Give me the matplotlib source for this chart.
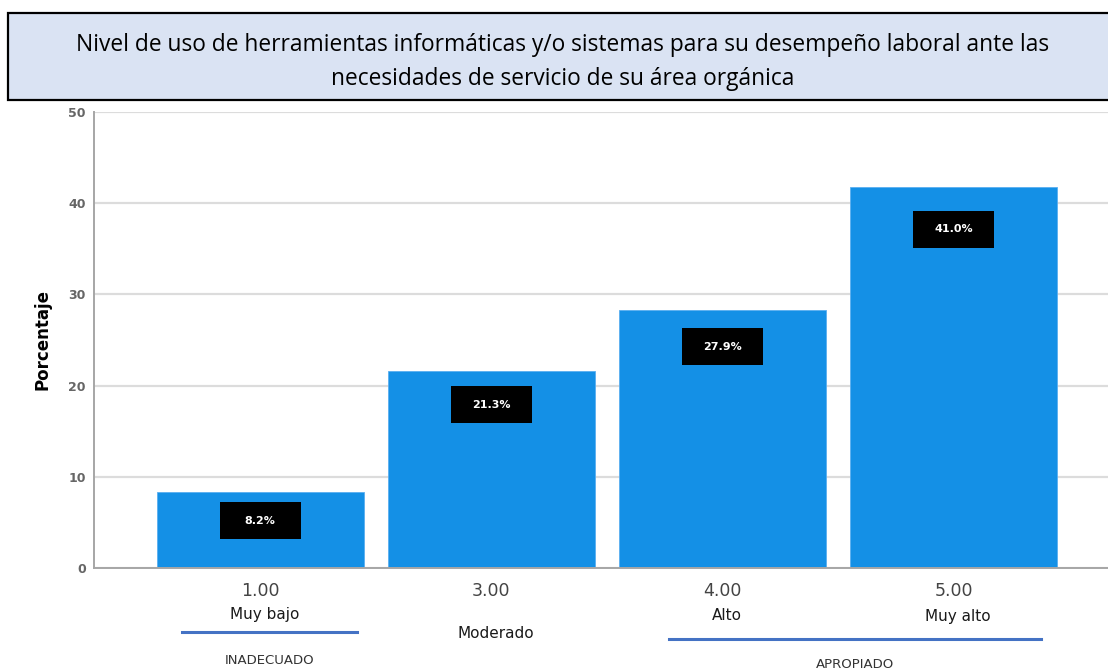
import matplotlib
matplotlib.use("Agg")
from matplotlib import pyplot as plt
from matplotlib.patches import Rectangle
from matplotlib.lines import Line2D
from matplotlib.transforms import Affine2D, ScaledTranslation

# data
codes = ["1.00", "3.00", "4.00", "5.00"]
categories = ["Muy bajo", "Moderado", "Alto", "Muy alto"]
bar_heights = [8.3, 21.6, 28.3, 41.8]
pct_labels = [8.2, 21.3, 27.9, 41.0]
groups = ["INADECUADO", "APROPIADO"]

title = ("Nivel de uso de herramientas informáticas y/o sistemas para su desempeño laboral ante las\n"
         "necesidades de servicio de su área orgánica")

W, H = 1108, 670
fig = plt.figure(figsize=(W / 100, H / 100), dpi=100)

# axes placed in pixels: left 94, right past the edge, top 112, bottom 568
ax = fig.add_axes([94 / W, 1 - 568 / H, (1120 - 94) / W, (568 - 112) / H])

x = list(range(len(codes)))
ax.bar(x, bar_heights, width=0.896, color="#1490e6", edgecolor="#5aaef0", linewidth=0.6, zorder=2)

ax.set_ylim(0, 50)
ax.set_xlim(-0.719, 3.72)
ax.set_yticks([0, 10, 20, 30, 40, 50])
ax.yaxis.grid(True, color="#dcdcdc", linewidth=1.6, zorder=0)
ax.set_axisbelow(True)
for s in ["top", "right"]:
    ax.spines[s].set_visible(False)
for s in ["left", "bottom"]:
    ax.spines[s].set_color("#a6a6a6")
    ax.spines[s].set_linewidth(1.4)
ax.tick_params(axis="y", length=0, pad=6, labelsize=9, labelcolor="#666666")
for lab in ax.get_yticklabels():
    lab.set_fontweight("bold")
ax.set_xticks(x)
ax.set_xticklabels(codes, fontsize=12.5, color="#444444")
ax.tick_params(axis="x", length=0, pad=10)

ax.set_ylabel("Porcentaje", fontsize=12, fontweight="bold", labelpad=12)

# black value boxes (fixed 81x37 px) inside the bars
for xi, h, p in zip(x, bar_heights, pct_labels):
    yc = h - (2.75 + 0.045 * h)
    box_tr = Affine2D().translate(-40.5, -18.5) + ScaledTranslation(xi, yc, ax.transData)
    ax.add_patch(Rectangle((0, 0), 81, 37, transform=box_tr,
                           facecolor="black", edgecolor="none", zorder=4))
    ax.text(xi, yc, f"{p:.1f}%", ha="center", va="center", color="white",
            fontsize=8, fontweight="bold", zorder=5)


def fy(py):
    # pixel row -> axes fraction
    return (568 - py) / (568 - 112)


trans = ax.get_xaxis_transform()
cat_rows = [614, 633, 616, 616]
for xi, c, r in zip(x, categories, cat_rows):
    ax.text(xi + 0.02, fy(r), c, transform=trans, ha="center", va="center",
            fontsize=11, color="#1a1a1a", fontweight="medium", clip_on=False)

# group underlines and names
spans = [(-0.34, 0.42), (1.77, 3.38)]
line_rows = [632, 639]
name_rows = [660, 664]
for g, (a, b), lr, nr in zip(groups, spans, line_rows, name_rows):
    ax.add_line(Line2D([a, b], [fy(lr), fy(lr)], transform=trans, color="#4472c4",
                       linewidth=2.2, clip_on=False))
    ax.text((a + b) / 2, fy(nr), g, transform=trans, ha="center", va="center",
            fontsize=9.5, color="#333333", clip_on=False)

# title box
fig.patches.append(Rectangle((8 / W, 1 - 100 / H), 1.2, 87 / H, transform=fig.transFigure,
                             facecolor="#dae3f3", edgecolor="black", linewidth=1.6, zorder=1))
fig.text(563 / W, 1 - 62 / H, title, ha="center", va="center", fontsize=16.4,
         family="Open Sans", linespacing=1.55, zorder=6)

fig.savefig("out.png", dpi=100)
